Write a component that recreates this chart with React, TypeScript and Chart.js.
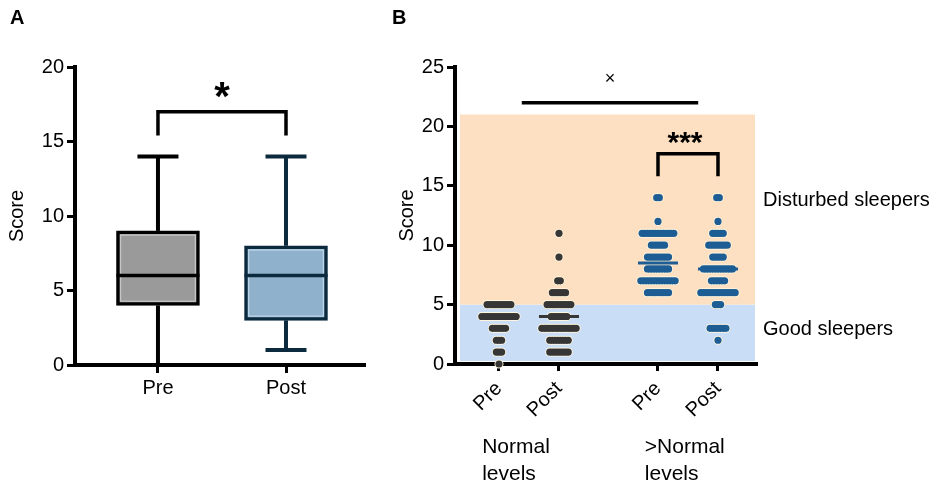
import React, { useEffect, useRef } from 'react';
import { Chart, registerables } from 'chart.js';

Chart.register(...registerables);

const FONT = '"Liberation Sans", Arial, Helvetica, sans-serif';
Chart.defaults.font.family = FONT;
Chart.defaults.color = '#000';

// ---------------- Panel A data (box plot) ----------------
const boxCategories = ['Pre', 'Post'];
const boxPositions = [1, 2];
const boxMin = [0, 1];
const boxQ1 = [4, 3];
const boxMedian = [6, 6];
const boxQ3 = [9, 8];
const boxMax = [14, 14];
const boxFill = ['#9a9a9a', '#8fb1cc'];
const boxStroke = ['#000000', '#0c2a3e'];
const boxInner = ['#cfcfcf', '#c9def0'];
const bracketA = { from: 1, to: 2, top: 17, legEnd: 15.4, label: '*', labelX: 1.5, labelY: 18.7 };

// ---------------- Panel B data (scatter dot plot) ----------------
const columnLabels = ['Pre', 'Post', 'Pre', 'Post'];
const columnPositions = [1, 2, 3.65, 4.65];
const scoreValues = [0, 1, 2, 3, 4, 5, 6, 7, 8, 9, 10, 11, 12, 13, 14];
// number of subjects at each score (index matches scoreValues)
const normalPreCounts = [1, 3, 3, 6, 14, 10, 0, 0, 0, 0, 0, 0, 0, 0, 0];
const normalPostCounts = [0, 8, 8, 14, 7, 10, 6, 2, 0, 1, 0, 1, 0, 0, 0];
const highPreCounts = [0, 0, 0, 0, 0, 0, 9, 14, 9, 9, 6, 13, 1, 0, 2];
const highPostCounts = [0, 0, 1, 7, 0, 3, 14, 6, 12, 5, 8, 5, 1, 0, 2];
const columnMedians = [4, 4, 8.5, 8];
const columnColors = ['#363636', '#363636', '#1d5d94', '#1d5d94'];
const bandEdges = [0, 5, 21];
const bandColors = ['#c9ddf6', '#fde0c2'];
const zoneLabels = ['Good sleepers', 'Disturbed sleepers'];
const zoneLabelY = [2.9, 13.8];
const groupLabels = [['Normal', 'levels'], ['>Normal', 'levels']];
const groupLabelX = [0.72, 3.43];
const overallLine = { from: 1.38, to: 4.32, y: 22, label: '\u00d7', labelX: 2.85, labelY: 24 };
const bracketB = { from: 3.65, to: 4.65, top: 17.7, legEnd: 15.8, label: '***', labelX: 4.1, labelY: 19.3 };

const DOT_STEP = 0.044;

function line(ctx: CanvasRenderingContext2D, x1: number, y1: number, x2: number, y2: number) {
  ctx.beginPath();
  ctx.moveTo(x1, y1);
  ctx.lineTo(x2, y2);
  ctx.stroke();
}

function bracket(ctx: CanvasRenderingContext2D, x: any, y: any, b: any) {
  const x1 = x.getPixelForValue(b.from);
  const x2 = x.getPixelForValue(b.to);
  const yt = y.getPixelForValue(b.top);
  const yl = y.getPixelForValue(b.legEnd);
  ctx.beginPath();
  ctx.moveTo(x1, yl);
  ctx.lineTo(x1, yt);
  ctx.lineTo(x2, yt);
  ctx.lineTo(x2, yl);
  ctx.stroke();
}

const gridStyle = { drawOnChartArea: false, drawTicks: true, tickLength: 8, tickWidth: 3, tickColor: '#000', offset: false };
const borderStyle = { display: true, width: 4, color: '#000' };

const boxPlugin = {
  id: 'boxExtras',
  afterDatasetsDraw(chart: any) {
    const { ctx, scales } = chart;
    const x = scales.x;
    const y = scales.y;
    const meta = chart.getDatasetMeta(0);
    ctx.save();
    ctx.lineCap = 'butt';
    ctx.lineJoin = 'miter';
    meta.data.forEach((bar: any, i: number) => {
      const p = bar.getProps(['x', 'y', 'base', 'width'], true);
      const left = p.x - p.width / 2;
      const right = p.x + p.width / 2;
      const top = Math.min(p.y, p.base);
      const bottom = Math.max(p.y, p.base);
      const inset = 4.2;
      ctx.strokeStyle = boxInner[i];
      ctx.lineWidth = 1;
      ctx.strokeRect(left + inset, top + inset, right - left - 2 * inset, bottom - top - 2 * inset);
      ctx.strokeStyle = boxStroke[i];
      ctx.lineWidth = 3.5;
      const ym = y.getPixelForValue(boxMedian[i]);
      line(ctx, left, ym, right, ym);
      ctx.lineWidth = 4;
      const yMax = y.getPixelForValue(boxMax[i]);
      const yMin = y.getPixelForValue(boxMin[i]);
      line(ctx, p.x, top, p.x, yMax);
      line(ctx, p.x, bottom, p.x, yMin);
      line(ctx, p.x - 20.5, yMax, p.x + 20.5, yMax);
      line(ctx, p.x - 20.5, yMin, p.x + 20.5, yMin);
    });
    ctx.strokeStyle = '#000';
    ctx.lineWidth = 3.5;
    bracket(ctx, x, y, bracketA);
    const fs = 40;
    ctx.fillStyle = '#000';
    ctx.font = `bold ${fs}px ${FONT}`;
    ctx.textAlign = 'center';
    ctx.textBaseline = 'alphabetic';
    ctx.fillText(bracketA.label, x.getPixelForValue(bracketA.labelX), y.getPixelForValue(bracketA.labelY) + 0.58 * fs);
    ctx.font = `bold 20px ${FONT}`;
    ctx.textAlign = 'left';
    ctx.fillText('A', 10, 24);
    ctx.restore();
  },
};

const dotPlugin = {
  id: 'dotExtras',
  beforeDatasetsDraw(chart: any) {
    const { ctx, chartArea, scales } = chart;
    const y = scales.y;
    ctx.save();
    for (let i = 0; i < bandColors.length; i++) {
      const yTop = y.getPixelForValue(bandEdges[i + 1]);
      let yBot = y.getPixelForValue(bandEdges[i]);
      if (i === 0) yBot -= 3;
      ctx.fillStyle = bandColors[i];
      ctx.fillRect(chartArea.left + 5, yTop, chartArea.right - 2 - (chartArea.left + 5), yBot - yTop);
    }
    ctx.restore();
  },
  afterDatasetsDraw(chart: any) {
    const { ctx, chartArea, scales } = chart;
    const x = scales.x;
    const y = scales.y;
    ctx.save();
    ctx.lineCap = 'butt';
    // medians
    ctx.lineWidth = 3;
    columnMedians.forEach((m, i) => {
      const cx = x.getPixelForValue(columnPositions[i]);
      const ym = y.getPixelForValue(m);
      ctx.strokeStyle = columnColors[i];
      line(ctx, cx - 20, ym, cx + 20, ym);
    });
    // overall comparison line
    ctx.strokeStyle = '#000';
    ctx.lineWidth = 3.5;
    const yl = y.getPixelForValue(overallLine.y);
    line(ctx, x.getPixelForValue(overallLine.from), yl, x.getPixelForValue(overallLine.to), yl);
    ctx.fillStyle = '#000';
    ctx.font = `18px ${FONT}`;
    ctx.textAlign = 'center';
    ctx.textBaseline = 'middle';
    ctx.fillText(overallLine.label, x.getPixelForValue(overallLine.labelX), y.getPixelForValue(overallLine.labelY));
    // bracket
    ctx.lineJoin = 'miter';
    bracket(ctx, x, y, bracketB);
    const fs = 30;
    ctx.font = `bold ${fs}px ${FONT}`;
    ctx.textBaseline = 'alphabetic';
    ctx.fillText(bracketB.label, x.getPixelForValue(bracketB.labelX), y.getPixelForValue(bracketB.labelY) + 0.58 * fs);
    // zone labels
    ctx.font = `20px ${FONT}`;
    ctx.textAlign = 'left';
    ctx.textBaseline = 'middle';
    zoneLabels.forEach((t, i) => {
      ctx.fillText(t, chartArea.right + 6, y.getPixelForValue(zoneLabelY[i]));
    });
    // group labels
    ctx.font = `21px ${FONT}`;
    ctx.textBaseline = 'alphabetic';
    groupLabels.forEach((lines, i) => {
      const gx = x.getPixelForValue(groupLabelX[i]);
      lines.forEach((t, k) => ctx.fillText(t, gx, chartArea.bottom + 89 + k * 27));
    });
    ctx.font = `bold 20px ${FONT}`;
    ctx.fillText('B', 12, 24);
    ctx.restore();
  },
};

function makeConfigA(): any {
  const data = boxPositions.map((p, i) => ({ x: p, y: [boxQ1[i], boxQ3[i]] }));
  return {
    type: 'bar',
    data: {
      datasets: [
        {
          data,
          backgroundColor: boxFill,
          borderColor: boxStroke,
          borderWidth: 3.5,
          borderSkipped: false,
          barThickness: 83,
        },
      ],
    },
    options: {
      animation: false,
      responsive: true,
      maintainAspectRatio: false,
      layout: { padding: { left: 5, top: 67, right: 15, bottom: 41 } },
      plugins: { legend: { display: false }, tooltip: { enabled: false } },
      scales: {
        x: {
          type: 'linear',
          offset: false,
          min: 0.352,
          max: 2.617,
          afterBuildTicks: (s: any) => {
            s.ticks = boxPositions.map((v) => ({ value: v }));
          },
          afterFit: (s: any) => {
            s.height = 80;
          },
          ticks: {
            callback: (_v: any, i: number) => boxCategories[i],
            font: { size: 20 },
            color: '#000',
            minRotation: 0,
            maxRotation: 0,
            autoSkip: false,
            padding: 3,
          },
          grid: { ...gridStyle },
          border: borderStyle,
        },
        y: {
          min: 0,
          max: 20,
          afterFit: (s: any) => {
            s.width = 70;
          },
          ticks: { stepSize: 5, font: { size: 20 }, color: '#000', padding: 3 },
          title: { display: true, text: 'Score', font: { size: 20 }, color: '#000', padding: 0 },
          grid: { ...gridStyle },
          border: borderStyle,
        },
      },
    },
    plugins: [boxPlugin],
  };
}

function makeConfigB(): any {
  const columnCounts = [normalPreCounts, normalPostCounts, highPreCounts, highPostCounts];
  const columnPoints = columnCounts.map((counts, c) => {
    const pts: { x: number; y: number }[] = [];
    counts.forEach((n, k) => {
      for (let i = 0; i < n; i++) {
        pts.push({ x: columnPositions[c] + (i - (n - 1) / 2) * DOT_STEP, y: scoreValues[k] });
      }
    });
    return pts;
  });
  const fills = columnPoints.map((pts, c) => ({
    data: pts,
    order: 0,
    pointRadius: 3.6,
    pointBackgroundColor: columnColors[c],
    pointBorderWidth: 0,
    showLine: false,
    clip: false,
  }));
  const outlines = columnPoints.map((pts) => ({
    data: pts,
    order: 1,
    pointRadius: 4.5,
    pointBackgroundColor: '#fff6dd',
    pointBorderWidth: 0,
    showLine: false,
    clip: false,
  }));
  return {
    type: 'scatter',
    data: { datasets: [...fills, ...outlines] },
    options: {
      animation: false,
      responsive: true,
      maintainAspectRatio: false,
      layout: { padding: { left: 15, top: 67, right: 178, bottom: 42 } },
      plugins: { legend: { display: false }, tooltip: { enabled: false } },
      scales: {
        x: {
          type: 'linear',
          offset: false,
          min: 0.267,
          max: 5.3,
          afterBuildTicks: (s: any) => {
            s.ticks = columnPositions.map((v) => ({ value: v }));
          },
          afterFit: (s: any) => {
            s.height = 80;
          },
          ticks: {
            callback: (_v: any, i: number) => columnLabels[i],
            font: { size: 20 },
            color: '#000',
            minRotation: 45,
            maxRotation: 45,
            autoSkip: false,
            padding: 6,
          },
          grid: { ...gridStyle, tickLength: 7 },
          border: borderStyle,
        },
        y: {
          min: 0,
          max: 25,
          afterFit: (s: any) => {
            s.width = 60;
          },
          ticks: { stepSize: 5, font: { size: 20 }, color: '#000', padding: 3 },
          title: { display: true, text: 'Score', font: { size: 20 }, color: '#000', padding: 0 },
          grid: { ...gridStyle },
          border: borderStyle,
        },
      },
    },
    plugins: [dotPlugin],
  };
}

export default function App() {
  const aRef = useRef<HTMLCanvasElement>(null);
  const bRef = useRef<HTMLCanvasElement>(null);
  useEffect(() => {
    const a = new Chart(aRef.current as HTMLCanvasElement, makeConfigA());
    const b = new Chart(bRef.current as HTMLCanvasElement, makeConfigB());
    return () => {
      a.destroy();
      b.destroy();
    };
  }, []);
  return (
    <div style={{ position: 'fixed', left: 0, top: 0, width: 935, height: 486, background: '#fff' }}>
      <div style={{ position: 'absolute', left: 0, top: 0, width: 380, height: 486 }}>
        <canvas ref={aRef} />
      </div>
      <div style={{ position: 'absolute', left: 380, top: 0, width: 555, height: 486 }}>
        <canvas ref={bRef} />
      </div>
    </div>
  );
}
